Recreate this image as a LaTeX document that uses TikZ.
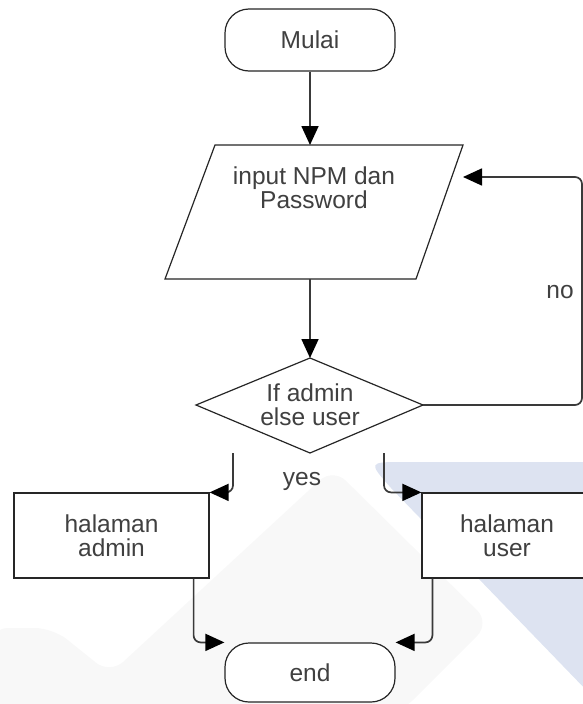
\documentclass[tikz,border=0pt]{standalone}
\usepackage{fontspec}
\setmainfont{Liberation Sans}
\usetikzlibrary{arrows.meta}
\definecolor{ink}{HTML}{3A3A3A}
\definecolor{txtc}{HTML}{404040}
\definecolor{wmblue}{HTML}{DDE3F1}
\definecolor{wmgrey}{HTML}{F8F8F8}

\begin{document}
\begin{tikzpicture}[x=1pt,y=-1pt,
  outline/.style={draw=black!85, line width=1.2pt, fill=white},
  txt/.style={font=\fontsize{24.5}{24}\selectfont, text=txtc, align=center, inner sep=0pt},
  flow/.style={draw=ink, line width=1.7pt, rounded corners=7pt,
    -{Triangle[length=19pt,width=17pt,color=black]}},
  term/.style={outline, rounded corners=24pt, minimum width=170pt, inner sep=0pt},
  proc/.style={outline, minimum height=85pt, inner sep=0pt},
]
\useasboundingbox (0,0) rectangle (583,704);
\clip (0,0) rectangle (583,704);

% faint watermark shapes in the background
\fill[wmgrey, rounded corners=18pt] (-10,628) -- (53,628) -- (110,674) -- (333,468)
  -- (490,623) -- (400,713) -- (-10,713) -- cycle;
\fill[wmblue] (620,462) -- (404,462) .. controls (368,462) .. (391,488)
  -- (620,725) -- cycle;

% start terminal
\node[term, txt, minimum height=62pt] (start) at (310,40) {Mulai};

% input parallelogram
\draw[outline] (215,145) -- (463,145) -- (416,279) -- (165,279) -- cycle;
\node[txt] (input) at (314,188) {input NPM dan\\Password};
\coordinate (input-top) at (310,145);
\coordinate (input-bot) at (310,279);
\coordinate (input-right) at (463,177);

% decision
\draw[outline] (196,405) -- (310,358) -- (423,405) -- (310,453) -- cycle;
\node[txt] (dec) at (310,405) {If admin\\else user};
\coordinate (dec-top) at (310,358);
\coordinate (dec-right) at (423,405);
\coordinate (yesL) at (233,453);
\coordinate (yesR) at (384,453);

% result pages
\node[proc, txt, minimum width=195pt] (admin) at (111.5,535.5) {halaman\\admin};
\node[proc, txt, minimum width=170pt] (user) at (507,535.5) {halaman\\user};

% end terminal
\node[term, txt, minimum height=59pt] (finish) at (310,672.5) {end};

% connectors
\draw[flow] (start) -- (input-top);
\draw[flow] (input-bot) -- (dec-top);
\draw[flow] (dec-right) -- (582,405) -- (582,177) -- (input-right);
\draw[flow] (yesL) |- (admin.north east);
\draw[flow] (yesR) |- (user.north west);
\draw[flow] ([xshift=-16pt]admin.south east) |- (finish.north west);
\draw[flow] ([xshift=11pt]user.south west) |- (finish.north east);

% branch labels
\node[txt, anchor=base] (no) at (560,298) {no};
\node[txt, anchor=base] (yes) at (302,485) {yes};
\end{tikzpicture}
\end{document}
